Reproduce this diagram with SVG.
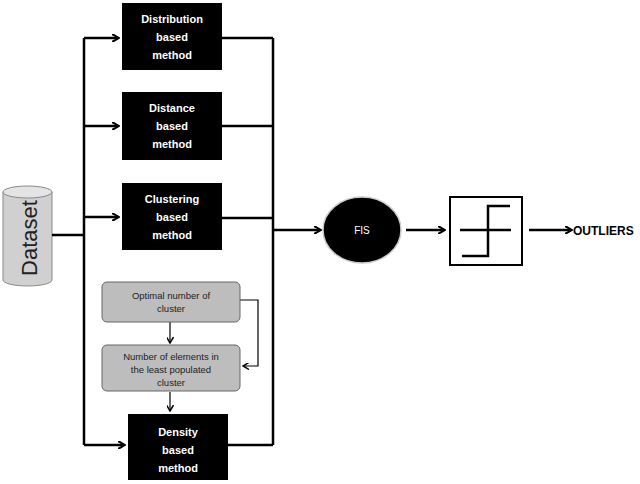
<svg xmlns="http://www.w3.org/2000/svg" width="640" height="484" viewBox="0 0 640 484">
<style>
.bk{fill:#000}
.wt{fill:#fff;font-family:"Liberation Sans",sans-serif;font-size:11px;font-weight:bold;text-anchor:middle}
.gt{fill:#222;font-family:"Liberation Sans",sans-serif;font-size:9.5px;text-anchor:middle}
.gr{fill:#bdbdbd;stroke:#666;stroke-width:1}
.ln{stroke:#000;stroke-width:2.5;fill:none}
.th{stroke:#000;stroke-width:1.2;fill:none}
</style>
<defs>
<marker id="a" markerWidth="8" markerHeight="8" refX="6" refY="4" orient="auto" markerUnits="userSpaceOnUse"><path d="M0,0 L7,4 L0,8" fill="none" stroke="#000" stroke-width="2"/></marker>
<marker id="s" markerWidth="7" markerHeight="7" refX="5" refY="3.5" orient="auto" markerUnits="userSpaceOnUse"><path d="M0,0 L6,3.5 L0,7" fill="none" stroke="#000" stroke-width="1.5"/></marker>
</defs>
<rect width="640" height="484" fill="#fff"/>
<g id="dataset">
<path d="M3,192 L3,280 A24.5,6 0 0 0 52,280 L52,192" fill="#d0d0d0" stroke="#888"/>
<ellipse cx="27.5" cy="192" rx="24.5" ry="6" fill="#e4e4e4" stroke="#888"/>
<text transform="translate(37,238) rotate(-90)" style="font-family:'Liberation Sans',sans-serif;font-size:22px;fill:#222;text-anchor:middle">Dataset</text>
</g>
<g id="connectors">
<path class="ln" d="M52,235 H84 M84,38 V445 M273,38 V445"/>
<path class="ln" marker-end="url(#a)" d="M84,38 H118"/>
<path class="ln" marker-end="url(#a)" d="M84,126 H118"/>
<path class="ln" marker-end="url(#a)" d="M84,217 H118"/>
<path class="ln" marker-end="url(#a)" d="M84,445 H124"/>
<path class="ln" d="M222,38 H273 M222,126 H273 M222,218 H273 M228,445 H273"/>
<path class="ln" marker-end="url(#a)" d="M273,230 H320"/>
<path class="ln" marker-end="url(#a)" d="M406,230 H444"/>
<path class="ln" marker-end="url(#a)" d="M529,230 H571"/>
<path class="th" marker-end="url(#s)" d="M170,322 V342"/>
<path class="th" marker-end="url(#s)" d="M170,392 V410"/>
<path class="th" marker-end="url(#s)" d="M240,300 H258 V366 H244"/>
</g>
<g id="distribution"><rect class="bk" x="122" y="3" width="100" height="67"/><text class="wt" x="172" y="23">Distribution</text><text class="wt" x="172" y="41">based</text><text class="wt" x="172" y="59">method</text></g>
<g id="distance"><rect class="bk" x="122" y="92" width="100" height="68"/><text class="wt" x="172" y="112">Distance</text><text class="wt" x="172" y="130">based</text><text class="wt" x="172" y="148">method</text></g>
<g id="clustering"><rect class="bk" x="122" y="183" width="100" height="67"/><text class="wt" x="172" y="203">Clustering</text><text class="wt" x="172" y="221">based</text><text class="wt" x="172" y="239">method</text></g>
<g id="optimal"><rect class="gr" x="102" y="282" width="138" height="40" rx="5"/><text class="gt" x="171" y="299">Optimal number of</text><text class="gt" x="171" y="312">cluster</text></g>
<g id="elements"><rect class="gr" x="102" y="345" width="138" height="46" rx="5"/><text class="gt" x="171" y="360">Number of elements in</text><text class="gt" x="171" y="373">the least populated</text><text class="gt" x="171" y="386">cluster</text></g>
<g id="density"><rect class="bk" x="128" y="414" width="100" height="66"/><text class="wt" x="178" y="436">Density</text><text class="wt" x="178" y="454">based</text><text class="wt" x="178" y="472">method</text></g>
<g id="fis"><ellipse cx="362" cy="230" rx="39" ry="33" fill="#000" stroke="#ccc" stroke-width="1.5"/><text class="wt" x="362" y="234" style="font-weight:normal;font-size:10px">FIS</text></g>
<g id="step"><rect x="450" y="197" width="72" height="68" fill="#fff" stroke="#000" stroke-width="2"/><path d="M460,230 H511 M462,256 H488 V206 H510" fill="none" stroke="#000" stroke-width="2.5"/></g>
<g id="outliers"><text x="573" y="235" style="font-family:'Liberation Sans',sans-serif;font-size:12px;font-weight:bold">OUTLIERS</text></g>
</svg>
